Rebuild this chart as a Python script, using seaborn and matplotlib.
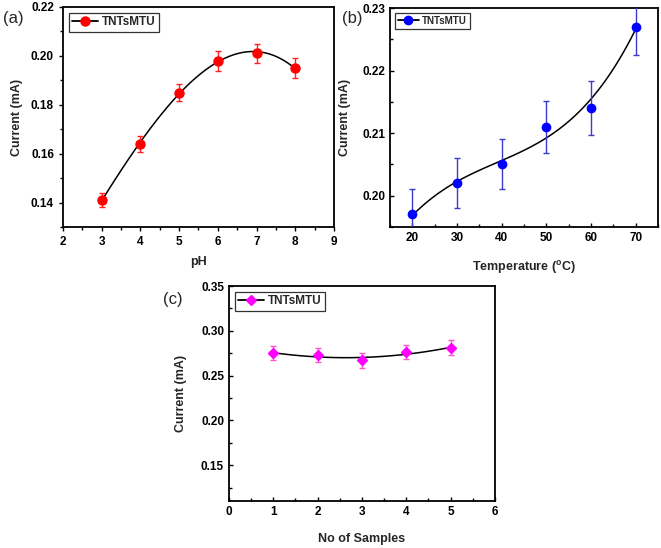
import numpy as np
import seaborn as sns
import matplotlib as mpl
import matplotlib.pyplot as plt
from matplotlib.lines import Line2D
from matplotlib.ticker import MultipleLocator

# data
ph = [3, 4, 5, 6, 7, 8]
ph_cur = [0.141, 0.164, 0.185, 0.198, 0.201, 0.195]
ph_err = [0.003, 0.0033, 0.0035, 0.004, 0.004, 0.004]

temp = [20, 30, 40, 50, 60, 70]
temp_cur = [0.197, 0.202, 0.205, 0.211, 0.214, 0.227]
temp_err = [0.004, 0.004, 0.004, 0.0042, 0.0043, 0.0045]

samples = [1, 2, 3, 4, 5]
samp_cur = [0.275, 0.273, 0.267, 0.276, 0.281]
samp_err = [0.008, 0.008, 0.008, 0.008, 0.0085]

sns.set_theme(style="ticks")
mpl.rcParams['font.family'] = ['Liberation Sans', 'DejaVu Sans']
mpl.rcParams['font.weight'] = 'bold'
mpl.rcParams['mathtext.fontset'] = 'custom'
mpl.rcParams['mathtext.rm'] = 'Liberation Sans'
mpl.rcParams['mathtext.bf'] = 'Liberation Sans:bold'
mpl.rcParams['mathtext.default'] = 'bf'

fig = plt.figure(figsize=(6.61, 5.48), dpi=100)
ax1 = fig.add_axes([0.0953, 0.5858, 0.410, 0.4015])
ax2 = fig.add_axes([0.590, 0.5858, 0.4054, 0.3996])
ax3 = fig.add_axes([0.3464, 0.0858, 0.4024, 0.3923])


def panel(ax, x, y, err, color, ecolor, marker, ms, order, tdir, leg_fs):
    sns.regplot(x=x, y=y, order=order, ci=None, scatter=False, ax=ax,
                line_kws=dict(color='black', lw=1.1))
    ax.errorbar(x, y, yerr=err, fmt='none', ecolor=ecolor, elinewidth=1,
                capsize=2, capthick=1, zorder=3)
    ax.plot(x, y, ls='none', marker=marker, color=color, ms=ms, zorder=4)
    for s in ax.spines.values():
        s.set_linewidth(1.3)
        s.set_color('black')
    ax.tick_params(which='both', direction=tdir, labelsize=8.5, width=1,
                   colors='black')
    ax.tick_params(which='major', length=3)
    ax.tick_params(which='minor', length=2)
    for lab in ax.get_xticklabels() + ax.get_yticklabels():
        lab.set_fontweight('bold')
    h = Line2D([], [], color='black', lw=1.3, marker=marker, mfc=color,
               mec=color, ms=ms)
    leg = ax.legend([h], ['TNTsMTU'], loc='upper left', fontsize=leg_fs,
                    frameon=True, fancybox=False, handlelength=2.2,
                    borderpad=0.3, borderaxespad=0.5, handletextpad=0.3)
    leg.get_frame().set_edgecolor('black')
    leg.get_frame().set_linewidth(0.9)
    for t in leg.get_texts():
        t.set_fontweight('bold')


panel(ax1, ph, ph_cur, ph_err, '#ff0000', '#ff2020', 'o', 6.5, 3, 'out', 8.5)
ax1.set_xlim(2, 9)
ax1.set_ylim(0.13, 0.22)
ax1.xaxis.set_major_locator(MultipleLocator(1))
ax1.xaxis.set_minor_locator(MultipleLocator(0.5))
ax1.set_yticks([0.14, 0.16, 0.18, 0.20, 0.22])
ax1.set_yticklabels(['0.14', '0.16', '0.18', '0.20', '0.22'])
ax1.yaxis.set_minor_locator(MultipleLocator(0.01))
ax1.set_xlabel('pH', fontsize=9, fontweight='bold', labelpad=6)
ax1.set_ylabel('Current (mA)', fontsize=9, fontweight='bold', labelpad=6)

panel(ax2, temp, temp_cur, temp_err, '#0000ff', '#3a3acc', 'o', 6, 3, 'in', 7)
ax2.set_xlim(15, 75)
ax2.set_ylim(0.195, 0.23)
ax2.xaxis.set_major_locator(MultipleLocator(10))
ax2.xaxis.set_minor_locator(MultipleLocator(5))
ax2.set_yticks([0.20, 0.21, 0.22, 0.23])
ax2.set_yticklabels(['0.20', '0.21', '0.22', '0.23'])
ax2.yaxis.set_minor_locator(MultipleLocator(0.005))
ax2.set_xlabel(r'Temperature ($^{\mathbf{o}}$C)', fontsize=9,
               fontweight='bold', labelpad=11)
ax2.set_ylabel('Current (mA)', fontsize=9, fontweight='bold', labelpad=8)

panel(ax3, samples, samp_cur, samp_err, '#ff00ff', '#ff55cc', 'D', 5.5, 3, 'in', 8.5)
ax3.set_xlim(0, 6)
ax3.set_ylim(0.11, 0.35)
ax3.xaxis.set_major_locator(MultipleLocator(1))
ax3.xaxis.set_minor_locator(MultipleLocator(0.5))
ax3.set_yticks([0.15, 0.20, 0.25, 0.30, 0.35])
ax3.set_yticklabels(['0.15', '0.20', '0.25', '0.30', '0.35'])
ax3.yaxis.set_minor_locator(MultipleLocator(0.025))
ax3.set_xlabel('No of Samples', fontsize=9, fontweight='bold', labelpad=11)
ax3.set_ylabel('Current (mA)', fontsize=9, fontweight='bold', labelpad=10)

fig.text(0.005, 0.958, '(a)', fontsize=12, fontweight='normal')
fig.text(0.517, 0.958, '(b)', fontsize=12, fontweight='normal')
fig.text(0.246, 0.446, '(c)', fontsize=12, fontweight='normal')

fig.savefig('out.png', dpi=100)
